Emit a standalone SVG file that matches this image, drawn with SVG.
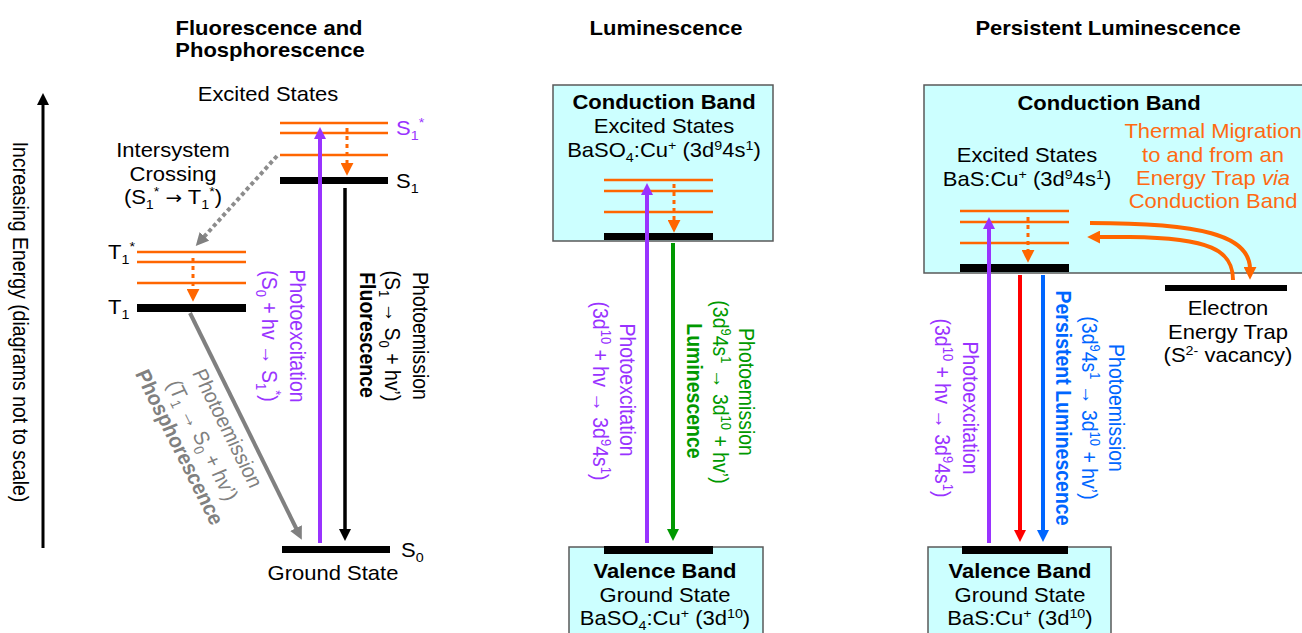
<svg xmlns="http://www.w3.org/2000/svg" width="1302" height="633" viewBox="0 0 1302 633">
<style>
text{font-family:"Liberation Sans",Arial,Helvetica,sans-serif;font-size:20px;fill:#000}
.m{text-anchor:middle}
.b{font-weight:bold}
.r{font-size:19.5px;text-anchor:middle}
.sm{font-size:13px}
.pu{fill:#9933FF}
.gr{fill:#009900}
.bl{fill:#0066FF}
.gy{fill:#808080}
.or{fill:#FF6A13}
.lvl{stroke:#FF6600;stroke-width:2.5;fill:none}
.bar{fill:#000}
.box{fill:#CCFFFF;stroke:#595959;stroke-width:1.5}
.dot{stroke:#FF6600;stroke-width:3;stroke-dasharray:4 4;fill:none}
</style>
<defs>
<marker id="hk" viewBox="0 0 12 12" markerWidth="12" markerHeight="12" markerUnits="userSpaceOnUse" refX="2" refY="6" orient="auto"><path d="M0,0L12,6L0,12z" fill="#000"/></marker>
<marker id="hp" viewBox="0 0 12 12" markerWidth="12" markerHeight="12" markerUnits="userSpaceOnUse" refX="2" refY="6" orient="auto"><path d="M0,0L12,6L0,12z" fill="#9933FF"/></marker>
<marker id="hg" viewBox="0 0 12 12" markerWidth="12" markerHeight="12" markerUnits="userSpaceOnUse" refX="2" refY="6" orient="auto"><path d="M0,0L12,6L0,12z" fill="#009900"/></marker>
<marker id="hr" viewBox="0 0 12 12" markerWidth="12" markerHeight="12" markerUnits="userSpaceOnUse" refX="2" refY="6" orient="auto"><path d="M0,0L12,6L0,12z" fill="#FF0000"/></marker>
<marker id="hb" viewBox="0 0 12 12" markerWidth="12" markerHeight="12" markerUnits="userSpaceOnUse" refX="2" refY="6" orient="auto"><path d="M0,0L12,6L0,12z" fill="#0066FF"/></marker>
<marker id="hy" viewBox="0 0 12 12" markerWidth="13" markerHeight="13" markerUnits="userSpaceOnUse" refX="2" refY="6" orient="auto"><path d="M0,0L12,6L0,12z" fill="#808080"/></marker>
<marker id="ho" viewBox="0 0 12 12" markerWidth="13" markerHeight="13" markerUnits="userSpaceOnUse" refX="2" refY="6" orient="auto"><path d="M0,0L12,6L0,12z" fill="#FF6600"/></marker>
</defs>

<!-- titles -->
<g id="titles">
<text class="m b" transform="translate(269,35) scale(1.1,1)">Fluorescence and</text>
<text class="m b" transform="translate(270,57) scale(1.1,1)">Phosphorescence</text>
<text class="m b" transform="translate(666,35) scale(1.1,1)">Luminescence</text>
<text class="m b" transform="translate(1108,35) scale(1.1,1)">Persistent Luminescence</text>
</g>

<!-- energy axis -->
<g id="axis">
<line x1="43" y1="548" x2="43" y2="103" stroke="#000" stroke-width="3" marker-end="url(#hk)"/>
<text class="r" transform="translate(13,322) scale(1.1,1) rotate(90)">Increasing Energy  (diagrams not to scale)</text>
</g>

<!-- LEFT PANEL -->
<g id="S1star">
<line class="lvl" x1="280" y1="123" x2="388" y2="123"/>
<line class="lvl" x1="280" y1="133" x2="388" y2="133"/>
<line class="lvl" x1="280" y1="155" x2="388" y2="155"/>
<text class="m" transform="translate(268,101) scale(1.1,1)">Excited States</text>
<text class="pu" transform="translate(396,135) scale(1.1,1)">S<tspan class="sm" dy="5">1</tspan><tspan class="sm" dy="-13">*</tspan></text>
</g>
<g id="S1">
<rect class="bar" x="280" y="177" width="108" height="7"/>
<text transform="translate(396,188) scale(1.1,1)">S<tspan class="sm" dy="5">1</tspan></text>
</g>
<g id="T1star">
<line class="lvl" x1="137" y1="252" x2="246" y2="252"/>
<line class="lvl" x1="137" y1="262" x2="246" y2="262"/>
<line class="lvl" x1="137" y1="283" x2="246" y2="283"/>
<text transform="translate(108,259) scale(1.1,1)">T<tspan class="sm" dy="5">1</tspan><tspan class="sm" dy="-13">*</tspan></text>
</g>
<g id="T1">
<rect class="bar" x="137" y="304" width="109" height="8"/>
<text transform="translate(108,314) scale(1.1,1)">T<tspan class="sm" dy="5">1</tspan></text>
</g>
<g id="S0">
<rect class="bar" x="282" y="546" width="108" height="7"/>
<text transform="translate(401,557) scale(1.1,1)">S<tspan class="sm" dy="5">0</tspan></text>
<text class="m" transform="translate(333,580) scale(1.1,1)">Ground State</text>
</g>
<g id="isc-label">
<text class="m" transform="translate(173,157) scale(1.1,1)">Intersystem</text>
<text class="m" transform="translate(173,181) scale(1.1,1)">Crossing</text>
<text class="m" transform="translate(173,204) scale(1.1,1)">(S<tspan class="sm" dy="5">1</tspan><tspan class="sm" dy="-13">*</tspan><tspan dy="8"> </tspan><tspan font-family="DejaVu Sans, sans-serif" font-size="18">→</tspan><tspan> T</tspan><tspan class="sm" dy="5">1</tspan><tspan class="sm" dy="-13">*</tspan><tspan dy="8">)</tspan></text>
</g>
<g id="left-labels">
<text class="r pu" transform="translate(290,336) scale(1.1,1) rotate(90)">Photoexcitation</text>
<text class="r pu" transform="translate(262,336) scale(1.1,1) rotate(90)">(S<tspan class="sm" dy="5">0</tspan><tspan dy="-5"> + hv → S</tspan><tspan class="sm" dy="5">1</tspan><tspan class="sm" dy="-13">*</tspan><tspan dy="8">)</tspan></text>
<text class="r" transform="translate(413,336) scale(1.1,1) rotate(90)">Photoemission</text>
<text class="r" transform="translate(385,336) scale(1.1,1) rotate(90)">(S<tspan class="sm" dy="5">1</tspan><tspan dy="-5"> → S</tspan><tspan class="sm" dy="5">0</tspan><tspan dy="-5"> + hv’)</tspan></text>
<text class="r b" transform="translate(360,335) scale(1.1,1) rotate(90)">Fluorescence</text>
<text class="r gy" transform="translate(221,431) scale(1.1,1) rotate(65.5)">Photoemission</text>
<text class="r gy" transform="translate(196,443) scale(1.1,1) rotate(65.5)">(T<tspan class="sm" dy="5">1</tspan><tspan dy="-5"> → S</tspan><tspan class="sm" dy="5">0</tspan><tspan dy="-5"> + hv’)</tspan></text>
<text class="r b gy" transform="translate(173,450) scale(1.1,1) rotate(65.5)">Phosphorescence</text>
</g>

<!-- MIDDLE PANEL -->
<g id="mid-cb">
<rect class="box" x="553" y="85" width="220" height="156"/>
<text class="m b" transform="translate(664,109) scale(1.1,1)">Conduction Band</text>
<text class="m" transform="translate(664,133) scale(1.1,1)">Excited States</text>
<text class="m" transform="translate(664,157) scale(1.1,1)">BaSO<tspan class="sm" dy="5">4</tspan><tspan dy="-5">:Cu</tspan><tspan class="sm" dy="-7">+</tspan><tspan dy="7"> (3d</tspan><tspan class="sm" dy="-7">9</tspan><tspan dy="7">4s</tspan><tspan class="sm" dy="-7">1</tspan><tspan dy="7">)</tspan></text>
<line class="lvl" x1="604" y1="180" x2="713" y2="180"/>
<line class="lvl" x1="604" y1="191" x2="713" y2="191"/>
<line class="lvl" x1="604" y1="212" x2="713" y2="212"/>
<rect class="bar" x="604" y="233" width="109" height="7"/>
</g>
<g id="mid-vb">
<rect class="box" x="569" y="547" width="194" height="92"/>
<rect class="bar" x="604" y="546" width="109" height="8"/>
<text class="m b" transform="translate(665,578) scale(1.1,1)">Valence Band</text>
<text class="m" transform="translate(665,602) scale(1.1,1)">Ground State</text>
<text class="m" transform="translate(665,625) scale(1.1,1)">BaSO<tspan class="sm" dy="5">4</tspan><tspan dy="-5">:Cu</tspan><tspan class="sm" dy="-7">+</tspan><tspan dy="7"> (3d</tspan><tspan class="sm" dy="-7">10</tspan><tspan dy="7">)</tspan></text>
</g>
<g id="mid-labels">
<text class="r pu" transform="translate(620,390) scale(1.1,1) rotate(90)">Photoexcitation</text>
<text class="r pu" transform="translate(593,391) scale(1.1,1) rotate(90)">(3d<tspan class="sm" dy="-7">10</tspan><tspan dy="7"> + hv → 3d</tspan><tspan class="sm" dy="-7">9</tspan><tspan dy="7">4s</tspan><tspan class="sm" dy="-7">1</tspan><tspan dy="7">)</tspan></text>
<text class="r gr" transform="translate(739,392) scale(1.1,1) rotate(90)">Photoemission</text>
<text class="r gr" transform="translate(713,392) scale(1.1,1) rotate(90)">(3d<tspan class="sm" dy="-7">9</tspan><tspan dy="7">4s</tspan><tspan class="sm" dy="-7">1</tspan><tspan dy="7"> → 3d</tspan><tspan class="sm" dy="-7">10</tspan><tspan dy="7"> + hv’)</tspan></text>
<text class="r b gr" transform="translate(687,391) scale(1.1,1) rotate(90)">Luminescence</text>
</g>

<!-- RIGHT PANEL -->
<g id="right-cb">
<rect class="box" x="924" y="85" width="390" height="188"/>
<text class="m b" transform="translate(1109,110) scale(1.1,1)">Conduction Band</text>
<text class="m" transform="translate(1027,162) scale(1.1,1)">Excited States</text>
<text class="m" transform="translate(1027,186) scale(1.1,1)">BaS:Cu<tspan class="sm" dy="-7">+</tspan><tspan dy="7"> (3d</tspan><tspan class="sm" dy="-7">9</tspan><tspan dy="7">4s</tspan><tspan class="sm" dy="-7">1</tspan><tspan dy="7">)</tspan></text>
<line class="lvl" x1="960" y1="211" x2="1069" y2="211"/>
<line class="lvl" x1="960" y1="222" x2="1069" y2="222"/>
<line class="lvl" x1="960" y1="243" x2="1069" y2="243"/>
<rect class="bar" x="960" y="264" width="109" height="8"/>
</g>
<g id="thermal-label">
<text class="m or" transform="translate(1213,138) scale(1.1,1)">Thermal Migration</text>
<text class="m or" transform="translate(1213,162) scale(1.1,1)">to and from an</text>
<text class="m or" transform="translate(1213,185) scale(1.1,1)">Energy Trap <tspan font-style="italic">via</tspan></text>
<text class="m or" transform="translate(1213,208) scale(1.1,1)">Conduction Band</text>
</g>
<g id="trap">
<rect class="bar" x="1165" y="285" width="122" height="6"/>
<text class="m" transform="translate(1228,315) scale(1.1,1)">Electron</text>
<text class="m" transform="translate(1228,339) scale(1.1,1)">Energy Trap</text>
<text class="m" transform="translate(1228,362) scale(1.1,1)">(S<tspan class="sm" dy="-7">2-</tspan><tspan dy="7"> vacancy)</tspan></text>
</g>
<g id="right-vb">
<rect class="box" x="928" y="547" width="183" height="92"/>
<rect class="bar" x="962" y="546" width="106" height="8"/>
<text class="m b" transform="translate(1020,578) scale(1.1,1)">Valence Band</text>
<text class="m" transform="translate(1020,602) scale(1.1,1)">Ground State</text>
<text class="m" transform="translate(1020,625) scale(1.1,1)">BaS:Cu<tspan class="sm" dy="-7">+</tspan><tspan dy="7"> (3d</tspan><tspan class="sm" dy="-7">10</tspan><tspan dy="7">)</tspan></text>
</g>
<g id="right-labels">
<text class="r pu" transform="translate(963,408) scale(1.1,1) rotate(90)">Photoexcitation</text>
<text class="r pu" transform="translate(935,408) scale(1.1,1) rotate(90)">(3d<tspan class="sm" dy="-7">10</tspan><tspan dy="7"> + hv → 3d</tspan><tspan class="sm" dy="-7">9</tspan><tspan dy="7">4s</tspan><tspan class="sm" dy="-7">1</tspan><tspan dy="7">)</tspan></text>
<text class="r bl" transform="translate(1109,408) scale(1.1,1) rotate(90)">Photoemission</text>
<text class="r bl" transform="translate(1082,408) scale(1.1,1) rotate(90)">(3d<tspan class="sm" dy="-7">9</tspan><tspan dy="7">4s</tspan><tspan class="sm" dy="-7">1</tspan><tspan dy="7"> → 3d</tspan><tspan class="sm" dy="-7">10</tspan><tspan dy="7"> + hv’)</tspan></text>
<text class="r b bl" transform="translate(1056,408) scale(1.1,1) rotate(90)">Persistent Luminescence</text>
</g>

<!-- connectors -->
<g id="connectors" fill="none">
<line x1="347" y1="128" x2="347" y2="165" class="dot" marker-end="url(#ho)"/>
<line x1="193" y1="258" x2="193" y2="291" class="dot" marker-end="url(#ho)"/>
<line x1="674" y1="184" x2="674" y2="222" class="dot" marker-end="url(#ho)"/>
<line x1="1028" y1="217" x2="1028" y2="252" class="dot" marker-end="url(#ho)"/>
<line x1="320" y1="543" x2="320" y2="137" stroke="#9933FF" stroke-width="4" marker-end="url(#hp)"/>
<line x1="345" y1="188" x2="345" y2="531" stroke="#000" stroke-width="3.5" marker-end="url(#hk)"/>
<line x1="277" y1="156" x2="203" y2="238" stroke="#8C8C8C" stroke-width="4" stroke-dasharray="4 3" marker-end="url(#hy)"/>
<line x1="190" y1="313" x2="297" y2="530" stroke="#808080" stroke-width="4" marker-end="url(#hy)"/>
<line x1="647" y1="543" x2="647" y2="193" stroke="#9933FF" stroke-width="4" marker-end="url(#hp)"/>
<line x1="673" y1="243" x2="673" y2="531" stroke="#009900" stroke-width="4" marker-end="url(#hg)"/>
<line x1="989" y1="543" x2="989" y2="227" stroke="#9933FF" stroke-width="4" marker-end="url(#hp)"/>
<line x1="1020" y1="275" x2="1020" y2="532" stroke="#FF0000" stroke-width="4" marker-end="url(#hr)"/>
<line x1="1043" y1="275" x2="1043" y2="532" stroke="#0066FF" stroke-width="4" marker-end="url(#hb)"/>
<path d="M1090,223 C1200,223 1250,235 1250,269" stroke="#FF6600" stroke-width="4" marker-end="url(#ho)"/>
<path d="M1233,280 C1233,250 1210,238 1130,237 L1098,237" stroke="#FF6600" stroke-width="4" marker-end="url(#ho)"/>
</g>
</svg>
